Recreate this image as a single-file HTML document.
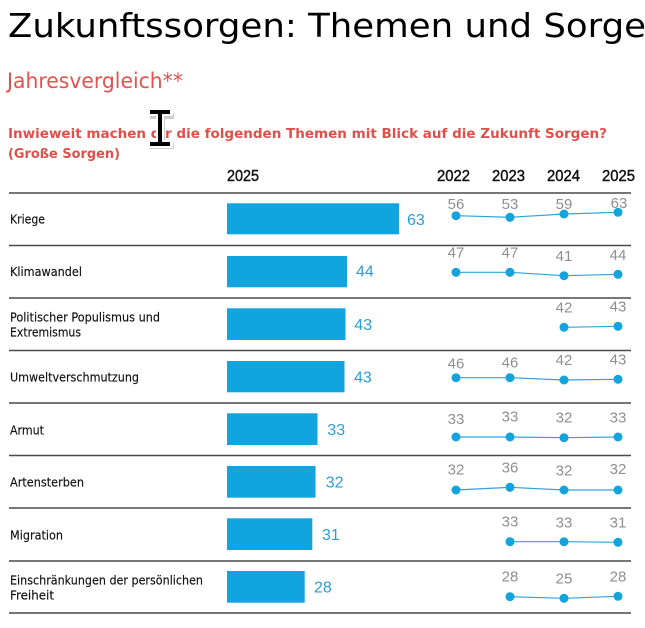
<!DOCTYPE html>
<html>
<head>
<meta charset="utf-8">
<style>
html,body{margin:0;padding:0;background:#fff;}
svg{display:block;}
.lbl{font-family:"DejaVu Sans","Liberation Sans",sans-serif;font-size:12.3px;fill:#111;stroke:#111;stroke-width:0.15;}
.num{font-family:"Liberation Sans","DejaVu Sans",sans-serif;}
.bv{font-size:16px;fill:#2d9dd6;}
.gv{font-size:15px;fill:#8f8f8f;text-anchor:middle;}
.hd{font-family:"Liberation Sans","DejaVu Sans",sans-serif;font-size:16px;fill:#111;stroke:#111;stroke-width:0.45;}
.bar{fill:#12a4de;}
.ln{stroke:#2fa3d9;stroke-width:1.2;fill:none;}
.dot{fill:#13a3dd;}
.rule{stroke:#4a4a4a;stroke-width:1.6;}
</style>
</head>
<body>
<svg width="645" height="628" viewBox="0 0 645 628" xmlns="http://www.w3.org/2000/svg">
<rect width="645" height="628" fill="#fff"/>

<!-- Title -->
<text x="8" y="37" font-family="DejaVu Sans, Liberation Sans, sans-serif" font-size="33" fill="#000" textLength="638" lengthAdjust="spacingAndGlyphs">Zukunftssorgen: Themen und Sorge</text>

<!-- Subtitle -->
<text x="7" y="88" font-family="DejaVu Sans, Liberation Sans, sans-serif" font-size="21" fill="#e0534e" textLength="176" lengthAdjust="spacingAndGlyphs">Jahresvergleich**</text>

<!-- Question -->
<text x="8" y="138" font-family="DejaVu Sans, Liberation Sans, sans-serif" font-size="13.5" font-weight="bold" fill="#e0504b" textLength="599" lengthAdjust="spacingAndGlyphs">Inwieweit machen dir die folgenden Themen mit Blick auf die Zukunft Sorgen?</text>
<text x="8" y="158" font-family="DejaVu Sans, Liberation Sans, sans-serif" font-size="13.5" font-weight="bold" fill="#e0504b" textLength="112" lengthAdjust="spacingAndGlyphs">(Große Sorgen)</text>

<!-- Cursor I-beam -->
<g>
  <path d="M148,111 h24 v6 h-9 v24 h9 v6 h-24 v-6 h9 v-24 h-9 z" fill="#999" opacity="0.5" transform="translate(2,2)"/>
  <path d="M148,109 h24 v6 h-9 v26 h9 v6 h-24 v-6 h9 v-26 h-9 z" fill="#fff" stroke="#fff" stroke-width="2"/>
  <path d="M150,110 h20 v4 h-8 v28 h8 v4 h-20 v-4 h8 v-28 h-8 z" fill="#000"/>
</g>

<!-- Column headers -->
<text class="hd" x="227" y="181" textLength="32" lengthAdjust="spacingAndGlyphs">2025</text>
<text class="hd" x="437" y="181" textLength="33" lengthAdjust="spacingAndGlyphs">2022</text>
<text class="hd" x="492" y="181" textLength="33" lengthAdjust="spacingAndGlyphs">2023</text>
<text class="hd" x="547" y="181" textLength="33" lengthAdjust="spacingAndGlyphs">2024</text>
<text class="hd" x="602" y="181" textLength="33" lengthAdjust="spacingAndGlyphs">2025</text>

<!-- Rules -->
<line class="rule" x1="9" y1="193" x2="631" y2="193" stroke="#222"/>
<line class="rule" x1="9" y1="245.5" x2="631" y2="245.5"/>
<line class="rule" x1="9" y1="298" x2="631" y2="298"/>
<line class="rule" x1="9" y1="350.5" x2="631" y2="350.5"/>
<line class="rule" x1="9" y1="403" x2="631" y2="403"/>
<line class="rule" x1="9" y1="455.5" x2="631" y2="455.5"/>
<line class="rule" x1="9" y1="508" x2="631" y2="508"/>
<line class="rule" x1="9" y1="561" x2="631" y2="561"/>
<line class="rule" x1="9" y1="613" x2="631" y2="613"/>

<!-- Row labels -->
<text class="lbl" x="10" y="223.3" textLength="35" lengthAdjust="spacingAndGlyphs">Kriege</text>
<text class="lbl" x="10" y="276" textLength="72" lengthAdjust="spacingAndGlyphs">Klimawandel</text>
<text class="lbl" x="10" y="321.7" textLength="150" lengthAdjust="spacingAndGlyphs">Politischer Populismus und</text>
<text class="lbl" x="10" y="336.7" textLength="71" lengthAdjust="spacingAndGlyphs">Extremismus</text>
<text class="lbl" x="10" y="381.7" textLength="129" lengthAdjust="spacingAndGlyphs">Umweltverschmutzung</text>
<text class="lbl" x="10" y="434.3" textLength="34" lengthAdjust="spacingAndGlyphs">Armut</text>
<text class="lbl" x="10" y="486.7" textLength="74" lengthAdjust="spacingAndGlyphs">Artensterben</text>
<text class="lbl" x="10" y="539.3" textLength="53" lengthAdjust="spacingAndGlyphs">Migration</text>
<text class="lbl" x="10" y="584.3" textLength="193" lengthAdjust="spacingAndGlyphs">Einschränkungen der persönlichen</text>
<text class="lbl" x="10" y="599.3" textLength="44" lengthAdjust="spacingAndGlyphs">Freiheit</text>

<!-- Bars -->
<rect class="bar" x="227" y="203.3" width="172" height="31"/>
<rect class="bar" x="227" y="256" width="120" height="31.3"/>
<rect class="bar" x="227" y="308.3" width="118.5" height="31.7"/>
<rect class="bar" x="227" y="361" width="117.5" height="31.3"/>
<rect class="bar" x="227" y="413.3" width="90.5" height="31.7"/>
<rect class="bar" x="227" y="466" width="88.5" height="31.7"/>
<rect class="bar" x="227" y="518.3" width="85.3" height="31.7"/>
<rect class="bar" x="227" y="571" width="77.7" height="31.7"/>

<!-- Bar values -->
<g class="num bv">
<text x="407" y="225">63</text>
<text x="356" y="276.7">44</text>
<text x="354.3" y="330">43</text>
<text x="354" y="382.7">43</text>
<text x="327.3" y="435">33</text>
<text x="325.7" y="487.7">32</text>
<text x="322" y="540">31</text>
<text x="314" y="592.7">28</text>
</g>

<!-- Mini line charts -->
<polyline class="ln" points="456,215.7 510,217.3 564,214 618,212.3"/>
<circle class="dot" cx="456" cy="215.7" r="4.5"/><circle class="dot" cx="510" cy="217.3" r="4.5"/><circle class="dot" cx="564" cy="214" r="4.5"/><circle class="dot" cx="618" cy="212.3" r="4.5"/>
<g class="num gv"><text x="456" y="209">56</text><text x="510" y="209">53</text><text x="564" y="209">59</text><text x="619" y="208">63</text></g>

<polyline class="ln" points="456,272.3 510,272.3 564,275.7 618,274.3"/>
<circle class="dot" cx="456" cy="272.3" r="4.5"/><circle class="dot" cx="510" cy="272.3" r="4.5"/><circle class="dot" cx="564" cy="275.7" r="4.5"/><circle class="dot" cx="618" cy="274.3" r="4.5"/>
<g class="num gv"><text x="456" y="257.3">47</text><text x="510" y="257.3">47</text><text x="564" y="261">41</text><text x="618" y="260">44</text></g>

<polyline class="ln" points="564,327.3 618,326.3"/>
<circle class="dot" cx="564" cy="327.3" r="4.5"/><circle class="dot" cx="618" cy="326.3" r="4.5"/>
<g class="num gv"><text x="564" y="312.7">42</text><text x="618" y="311.7">43</text></g>

<polyline class="ln" points="456,377.7 510,377.7 564,380 618,379.3"/>
<circle class="dot" cx="456" cy="377.7" r="4.5"/><circle class="dot" cx="510" cy="377.7" r="4.5"/><circle class="dot" cx="564" cy="380" r="4.5"/><circle class="dot" cx="618" cy="379.3" r="4.5"/>
<g class="num gv"><text x="456" y="368.3">46</text><text x="510" y="367.3">46</text><text x="564" y="365">42</text><text x="618" y="364.3">43</text></g>

<polyline class="ln" points="456,437 510,437 564,437.7 618,437"/>
<circle class="dot" cx="456" cy="437" r="4.5"/><circle class="dot" cx="510" cy="437" r="4.5"/><circle class="dot" cx="564" cy="437.7" r="4.5"/><circle class="dot" cx="618" cy="437" r="4.5"/>
<g class="num gv"><text x="456" y="424">33</text><text x="510" y="421.7">33</text><text x="564" y="422.7">32</text><text x="618" y="422.7">33</text></g>

<polyline class="ln" points="456,490 510,487.3 564,490 618,490"/>
<circle class="dot" cx="456" cy="490" r="4.5"/><circle class="dot" cx="510" cy="487.3" r="4.5"/><circle class="dot" cx="564" cy="490" r="4.5"/><circle class="dot" cx="618" cy="490" r="4.5"/>
<g class="num gv"><text x="456" y="474.3">32</text><text x="510" y="472.3">36</text><text x="564" y="475.7">32</text><text x="618" y="474">32</text></g>

<polyline class="ln" points="510,541.7 564,541.7 618,542.3"/>
<circle class="dot" cx="510" cy="541.7" r="4.5"/><circle class="dot" cx="564" cy="541.7" r="4.5"/><circle class="dot" cx="618" cy="542.3" r="4.5"/>
<g class="num gv"><text x="510" y="526.7">33</text><text x="564" y="527.7">33</text><text x="618" y="527.7">31</text></g>

<polyline class="ln" points="510,596.7 564,598.3 618,596.3"/>
<circle class="dot" cx="510" cy="596.7" r="4.5"/><circle class="dot" cx="564" cy="598.3" r="4.5"/><circle class="dot" cx="618" cy="596.3" r="4.5"/>
<g class="num gv"><text x="510" y="581.7">28</text><text x="564" y="583.3">25</text><text x="618" y="581.7">28</text></g>
</svg>
</body>
</html>
